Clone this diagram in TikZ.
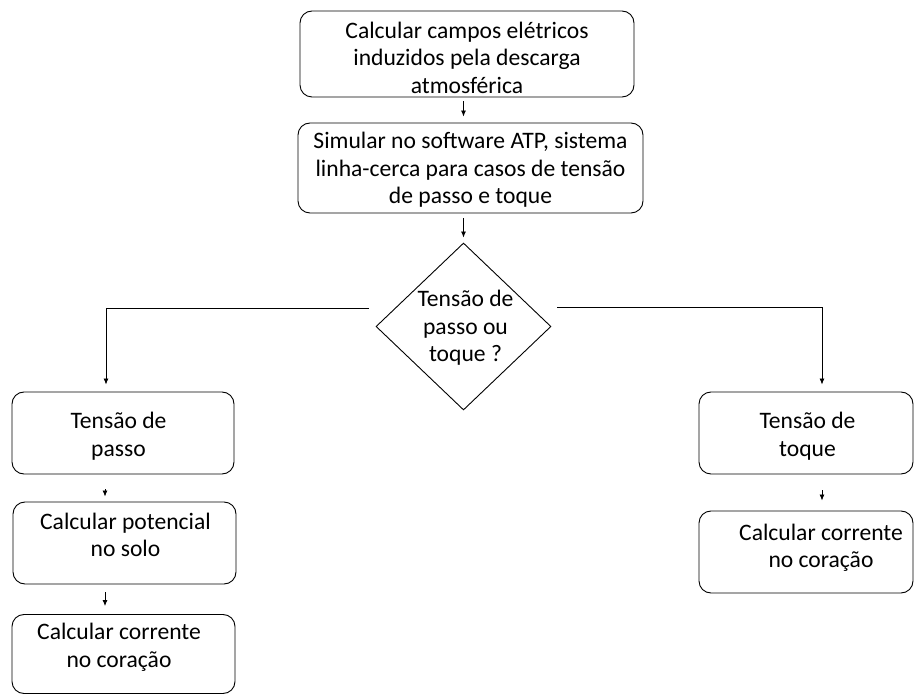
\documentclass[tikz,border=0pt]{standalone}
\usepackage{fontspec}
\setmainfont{Carlito}
\usetikzlibrary{shapes.geometric,arrows.meta,calc}
\begin{document}
\begin{tikzpicture}[x=1pt,y=-1pt,
  t/.style={font=\fontsize{23.6}{27.5}\selectfont, align=center, inner sep=0pt},
  box/.style={draw=black, line width=0.9pt, rounded corners=12pt, inner sep=0pt},
  dec/.style={draw=black, line width=0.9pt, diamond, inner sep=0pt},
  ln/.style={draw=black, line width=0.8pt},
  arr/.style={ln, -{Latex[length=6pt,width=5pt]}}]
\useasboundingbox (0,0) rectangle (914,695);

\node[box, minimum width=334pt, minimum height=86pt,
  label={[t,yshift=-3.5pt]center:Calcular campos elétricos\\induzidos pela descarga\\atmosférica}] (b1) at (467,54) {};
\node[box, minimum width=345pt, minimum height=90pt,
  label={[t,yshift=-2pt]center:Simular no software ATP, sistema\\linha-cerca para casos de tensão\\de passo e toque}] (b2) at (470.5,168) {};
\node[dec, minimum width=175pt, minimum height=167pt,
  label={[t,yshift=-1.5pt,xshift=2pt]center:Tensão de\\passo ou\\toque ?}] (d) at (463.5,326.5) {};

\node[box, minimum width=222pt, minimum height=82pt,
  label={[t,xshift=-4.5pt,yshift=-3pt]center:Tensão de\\passo}] (tp) at (123,433) {};
\node[box, minimum width=223pt, minimum height=82pt,
  label={[t,xshift=1pt,yshift=8pt]center:Calcular potencial\\no solo}] (cp) at (124.5,543) {};
\node[box, minimum width=223pt, minimum height=79pt,
  label={[t,xshift=-4.5pt,yshift=6.5pt]center:Calcular corrente\\no coração}] (ccl) at (123.5,654) {};

\node[box, minimum width=214pt, minimum height=82pt,
  label={[t,xshift=1.5pt,yshift=-3pt]center:Tensão de\\toque}] (tt) at (806,433) {};
\node[box, minimum width=214pt, minimum height=82pt,
  label={[t,xshift=15pt,yshift=4.3pt]center:Calcular corrente\\no coração}] (ccr) at (806,552) {};

\coordinate (lc) at (106,308);
\coordinate (rc) at (822,307);
\coordinate (dl) at (369,308);
\coordinate (dr) at (557,307);

\draw[arr, shorten <=4pt, shorten >=6pt] (b1.south -| d.north) -- (b2.north -| d.north);
\draw[arr, shorten <=5pt, shorten >=5pt] (b2.south -| d.north) -- (d.north);
\draw[arr, shorten >=7pt] (dl) -- (lc) -- (tp.north -| lc);
\draw[arr, shorten >=7pt] (dr) -- (rc) -- (tt.north -| rc);
\draw[arr, shorten <=15pt, shorten >=5pt] (tp.south -| 105,0) -- (cp.north -| 105,0);
\draw[arr, shorten <=8pt, shorten >=8pt] (cp.south -| 105,0) -- (ccl.north -| 105,0);
\draw[arr, shorten <=16pt, shorten >=10pt] (tt.south -| rc) -- (ccr.north -| rc);
\end{tikzpicture}
\end{document}
